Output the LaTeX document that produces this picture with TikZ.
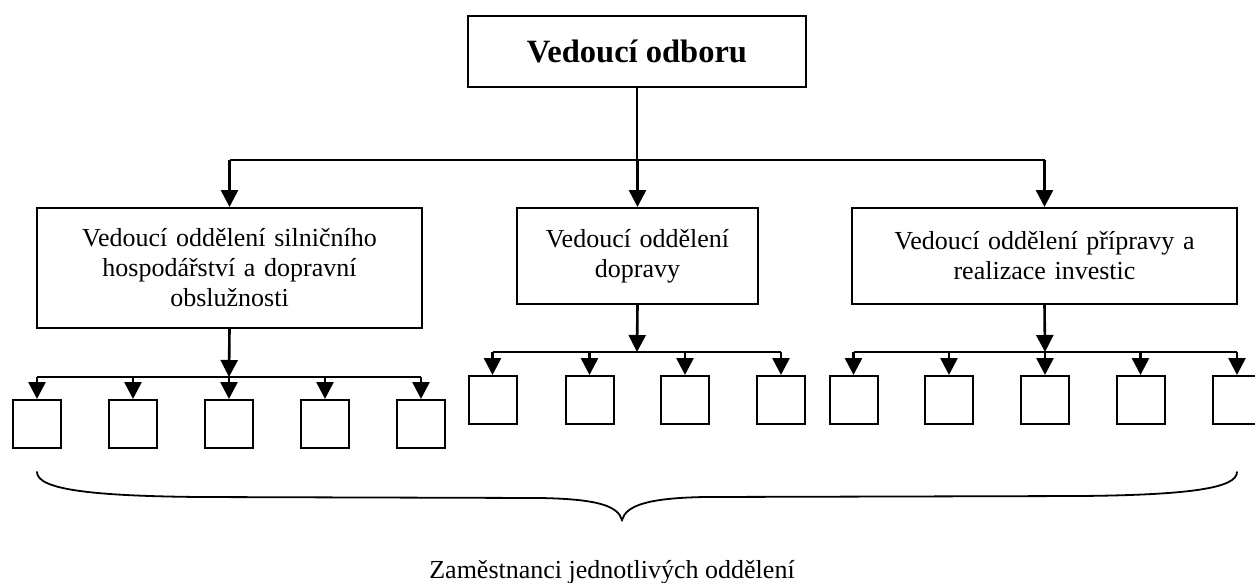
\documentclass[tikz,border=0pt]{standalone}
\usepackage{fontspec}
\setmainfont{Liberation Serif}
\usetikzlibrary{arrows.meta}

\begin{document}
\begin{tikzpicture}[x=1pt,y=-1pt,
  box/.style={draw,line width=2pt,rectangle,inner sep=0pt,align=center,
    font=\fontsize{26}{30}\selectfont},
  unit/.style={draw,line width=2pt,rectangle,inner sep=0pt,
    minimum width=48pt,minimum height=48pt},
  link/.style={line width=2.6pt},
  arr/.style={link,-{Triangle[length=17pt,width=17pt]}}]

\useasboundingbox (0,0) rectangle (1255,582);

% head of the department
\node[box,minimum width=338pt,minimum height=71pt,
  font=\fontsize{32.5}{38}\selectfont\bfseries] (head) at (637,51.5) {Vedoucí odboru};

% section heads
\node[box,minimum width=385pt,minimum height=120pt,text width=370pt] (secA) at (229.5,268)
  {Vedoucí oddělení silničního\\hospodářství a dopravní\\obslužnosti};
\node[box,minimum width=241pt,minimum height=96pt,text width=230pt] (secB) at (637.5,256)
  {Vedoucí oddělení\\dopravy};
\node[box,minimum width=385pt,minimum height=96pt,text width=370pt] (secC) at (1044.5,256)
  {Vedoucí oddělení přípravy a\\realizace investic};

% staff of each section
\foreach \i/\x in {1/37,2/133,3/229,4/325,5/421}
  \node[unit] (a\i) at (\x,424) {};
\foreach \i/\x in {1/492.5,2/589.5,3/685,4/781}
  \node[unit] (b\i) at (\x,400) {};
\foreach \i/\x in {1/853.5,2/949,3/1045,4/1140.5,5/1237}
  \node[unit] (c\i) at (\x,400) {};

% bus lines
\coordinate (top) at (637,160);
\coordinate (busA) at (229,377);
\coordinate (busB) at (637,352);
\coordinate (busC) at (1045,352);

% head to section heads
\draw[link] (head.south) -- (top);
\draw[link] (secA.north|-top) -- (secC.north|-top);
\foreach \s in {secA,secB,secC}
  \draw[arr] (\s.north|-top) -- (\s.north);

% section heads to staff
\draw[arr] (secA.south) -- (busA);
\draw[link] (a1.north|-busA) -- (a5.north|-busA);
\foreach \i in {1,...,5}
  \draw[arr] (a\i.north|-busA) -- (a\i.north);

\draw[arr] (secB.south) -- (busB);
\draw[link] (b1.north|-busB) -- (b4.north|-busB);
\foreach \i in {1,...,4}
  \draw[arr] (b\i.north|-busB) -- (b\i.north);

\draw[arr] (secC.south) -- (busC);
\draw[link] (c1.north|-busC) -- (c5.north|-busC);
\foreach \i in {1,...,5}
  \draw[arr] (c\i.north|-busC) -- (c\i.north);

% brace under all staff
\coordinate (bl) at (37,472);
\coordinate (br) at (1237,472);
\coordinate (tip) at (622,520);
\draw[line width=1.8pt,line cap=round]
  (bl) .. controls (37,490) and (95,496) .. (200,497)
  -- (540,498) .. controls (598,499) and (618,506) .. (tip)
  .. controls (626,506) and (646,498) .. (705,497)
  -- (1080,496) .. controls (1190,495) and (1237,488) .. (br);

\node[font=\fontsize{26}{30}\selectfont,anchor=base] (staff) at (612,578)
  {Zaměstnanci jednotlivých oddělení};
\end{tikzpicture}
\end{document}
